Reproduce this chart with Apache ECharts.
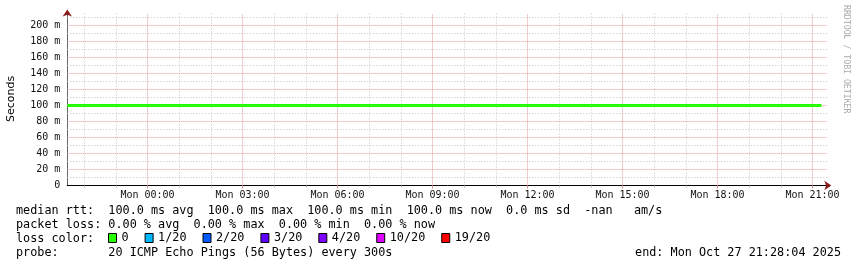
<!DOCTYPE html>
<html>
<head>
<meta charset="utf-8">
<script src="https://cdn.jsdelivr.net/npm/echarts@6/dist/echarts.min.js"></script>
<style>
html,body{margin:0;padding:0;background:#fff;}
#chart{width:857px;height:267px;}
</style>
</head>
<body>
<div id="chart"></div>
<script>
// ---- data ----
const axisStartTime = '2025-10-26 21:28:04';
const axisEndTime = '2025-10-27 21:28:04';
const referenceMidnight = '2025-10-27 00:00:00';
const rttTimes = ['2025-10-26 21:28:04', '2025-10-27 21:17:00'];
const rttValuesMs = [100, 100];
const xMajorHours = [0, 3, 6, 9, 12, 15, 18, 21];
const xMinorHours = [-2, -1, 1, 2, 4, 5, 7, 8, 10, 11, 13, 14, 16, 17, 19, 20];
const yMajorValues = [20, 40, 60, 80, 100, 120, 140, 160, 180, 200];
const yMinorValues = [10, 30, 50, 70, 90, 110, 130, 150, 170, 190, 210];
const yLabelValues = [0, 20, 40, 60, 80, 100, 120, 140, 160, 180, 200];
const yMax = 215;
const lossNames = ['0', '1/20', '2/20', '3/20', '4/20', '10/20', '19/20'];
const lossColors = ['#26ff00', '#00b8ff', '#0059ff', '#5e00ff', '#7e00ff', '#dd00ff', '#ff0000'];
const medianLine = 'median rtt:  100.0 ms avg  100.0 ms max  100.0 ms min  100.0 ms now  0.0 ms sd  -nan   am/s';
const lossLine = 'packet loss: 0.00 % avg  0.00 % max  0.00 % min  0.00 % now';
const lossColorLabel = 'loss color:';
const probeLine = 'probe:       20 ICMP Echo Pings (56 Bytes) every 300s';
const endLine = 'end: Mon Oct 27 21:28:04 2025';
const watermark = 'RRDTOOL / TOBI OETIKER';
const yAxisTitle = 'Seconds';

// ---- helpers ----
function parseUTC(s) {
  const p = s.split(/[- :]/).map(Number);
  return Date.UTC(p[0], p[1] - 1, p[2], p[3], p[4], p[5]);
}
function toHours(s) {
  return (parseUTC(s) - parseUTC(referenceMidnight)) / 3600000;
}
const xMin = toHours(axisStartTime);
const xMax = toHours(axisEndTime);
const rttData = rttTimes.map((t, i) => [toHours(t), rttValuesMs[i]]);

function hourLabel(h) {
  const day = h < 0 ? 'Sun' : 'Mon';
  const hh = ((Math.round(h) % 24) + 24) % 24;
  return day + ' ' + String(hh).padStart(2, '0') + ':00';
}

const mono = '"DejaVu Sans Mono", monospace';
const textFont = '11.8px ' + mono;
const minorColor = '#c4c4c4';
const majorColor = '#e29a9a';
const arrowColor = '#8b1a1a';

function gridSeries(name, xs, ys, color, dash, z) {
  return {
    name: name, type: 'line', data: [], silent: true, z: z, animation: false,
    markLine: {
      silent: true, animation: false, symbol: ['none', 'none'],
      label: { show: false },
      emphasis: { disabled: true },
      lineStyle: { color: color, type: dash, width: 1 },
      data: xs.map(h => ({ xAxis: h })).concat(ys.map(v => ({ yAxis: v })))
    }
  };
}

const lossSeries = lossNames.map((name, i) => ({
  name: name,
  type: 'line',
  color: lossColors[i],
  data: i === 0 ? rttData : [],
  symbol: 'none',
  animation: false,
  z: 5,
  lineStyle: { width: 3, color: lossColors[i], cap: 'butt' },
  itemStyle: { color: lossColors[i] }
}));

const chart = echarts.init(document.getElementById('chart'), null, { renderer: 'canvas' });
chart.setOption({
  animation: false,
  backgroundColor: '#ffffff',
  grid: { left: 67.31, right: 29.69, top: 13.5, bottom: 81.5, containLabel: false },
  xAxis: [{
    type: 'value', min: xMin, max: xMax, position: 'bottom', z: 3,
    axisLine: { show: true, onZero: false, lineStyle: { color: '#000', width: 1 } },
    axisTick: { show: true, length: 3, customValues: xMajorHours, lineStyle: { color: '#d58f8f' } },
    axisLabel: {
      customValues: xMajorHours,
      formatter: v => hourLabel(v),
      fontFamily: mono, fontSize: 10, color: '#111', margin: 5
    },
    splitLine: { show: false }
  }, {
    type: 'value', min: xMin, max: xMax, position: 'bottom', z: 2,
    axisLine: { show: false, onZero: false },
    axisTick: { show: true, length: 2, customValues: xMinorHours, lineStyle: { color: '#bbbbbb' } },
    axisLabel: { show: false },
    splitLine: { show: false }
  }, {
    type: 'value', min: xMin, max: xMax, position: 'bottom', z: 4,
    axisLine: { show: true, onZero: false, symbol: ['none', 'arrow'], symbolSize: [7, 7], symbolOffset: [0, 4], lineStyle: { color: arrowColor, width: 0 } },
    axisTick: { show: false }, axisLabel: { show: false }, splitLine: { show: false }
  }],
  yAxis: [{
    type: 'value', min: 0, max: yMax, position: 'left', z: 3,
    axisLine: { show: true, onZero: false, lineStyle: { color: '#666', width: 1 } },
    axisTick: { show: false, customValues: yLabelValues },
    axisLabel: {
      customValues: yLabelValues,
      formatter: v => v === 0 ? '0' : v + ' m',
      fontFamily: mono, fontSize: 10, color: '#111', margin: 7
    },
    splitLine: { show: false }
  }, {
    type: 'value', min: 0, max: yMax, position: 'left', z: 4,
    axisLine: { show: true, onZero: false, symbol: ['none', 'arrow'], symbolSize: [7, 7], symbolOffset: [0, 4], lineStyle: { color: arrowColor, width: 0 } },
    axisTick: { show: false }, axisLabel: { show: false }, splitLine: { show: false }
  }],
  legend: {
    data: lossNames,
    left: 108,
    top: 232,
    padding: 0,
    itemWidth: 8,
    itemHeight: 9,
    itemGap: 16,
    icon: 'rect',
    selectedMode: false,
    itemStyle: { borderColor: '#000', borderWidth: 1 },
    textStyle: { fontFamily: mono, fontSize: 11.8, color: '#000', padding: 0 }
  },
  graphic: [
    { type: 'text', x: 11, y: 99, rotation: Math.PI / 2, style: { text: yAxisTitle, font: '11px "DejaVu Sans", sans-serif', fill: '#000', align: 'center', verticalAlign: 'middle' } },
    { type: 'text', x: 846, y: 5, rotation: -Math.PI / 2, style: { text: watermark, font: '8.2px "DejaVu Sans Mono", monospace', fill: '#aaaaaa', align: 'left', verticalAlign: 'middle' } },
    { type: 'text', x: 16, y: 211, style: { text: medianLine, font: textFont, fill: '#000', align: 'left', verticalAlign: 'middle' } },
    { type: 'text', x: 16, y: 225, style: { text: lossLine, font: textFont, fill: '#000', align: 'left', verticalAlign: 'middle' } },
    { type: 'text', x: 16, y: 239, style: { text: lossColorLabel, font: textFont, fill: '#000', align: 'left', verticalAlign: 'middle' } },
    { type: 'text', x: 16, y: 253, style: { text: probeLine, font: textFont, fill: '#000', align: 'left', verticalAlign: 'middle' } },
    { type: 'text', x: 841, y: 253, style: { text: endLine, font: textFont, fill: '#000', align: 'right', verticalAlign: 'middle' } }
  ],
  series: [
    gridSeries('minorGrid', xMinorHours, yMinorValues, minorColor, [1, 2], 1),
    gridSeries('majorGrid', xMajorHours, yMajorValues, majorColor, [1, 1], 2)
  ].concat(lossSeries)
});
</script>
</body>
</html>
